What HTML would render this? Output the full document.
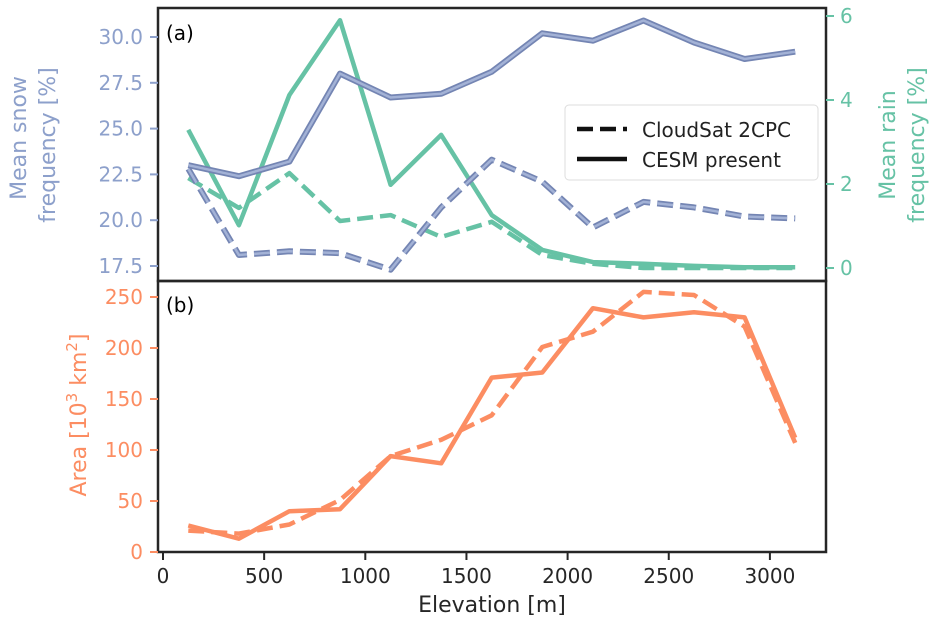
<!DOCTYPE html>
<html><head><meta charset="utf-8"><style>
body{margin:0;background:#fff}
svg{font-family:"DejaVu Sans","Liberation Sans",sans-serif}
</style></head><body>
<svg id="c" width="939" height="624" xmlns="http://www.w3.org/2000/svg"></svg>
<script>
const elevations=[125,375,625,875,1125,1375,1625,1875,2125,2375,2625,2875,3125];
const snowCesm=[23.0,22.4,23.2,28.0,26.7,26.9,28.1,30.2,29.8,30.9,29.7,28.8,29.2];
const snowCloudsat=[22.8,18.1,18.3,18.2,17.3,20.7,23.3,22.1,19.6,21.0,20.7,20.2,20.1];
const rainCesm=[3.29,1.02,4.12,5.9,1.98,3.17,1.26,0.43,0.14,0.1,0.05,0.02,0.02];
const rainCloudsat=[2.14,1.43,2.26,1.12,1.26,0.74,1.1,0.31,0.1,0.0,0.0,0.0,0.0];
const areaCesm=[26,13,40,42,94,87,171,176,239,230,235,230,112];
const areaCloudsat=[21,18,27,51,94,110,134,201,216,255,252,221,107];
const xTicks=[0,500,1000,1500,2000,2500,3000];
const snowTicks=[17.5,20.0,22.5,25.0,27.5,30.0];
const rainTicks=[0,2,4,6];
const areaTicks=[0,50,100,150,200,250];

const svg=document.getElementById('c');
const NS='http://www.w3.org/2000/svg';
function mk(tag,attrs,parent){const e=document.createElementNS(NS,tag);for(const k in attrs)e.setAttribute(k,attrs[k]);(parent||svg).appendChild(e);return e;}
const X=v=>163+v*0.2023;
const Ys=v=>266-(v-17.5)*18.32;
const Yr=v=>268-v*42;
const Ya=v=>552-v*1.02;
const SNOW='#8da0cb',RAIN='#66c2a5',AREA='#fc8d62';

function line(xs,ys,fx,fy,color,dash,name,w){
  const d=xs.map((x,i)=>(i?'L':'M')+fx(x).toFixed(1)+' '+fy(ys[i]).toFixed(1)).join(' ');
  const p=mk('path',{d:d,fill:'none',stroke:color,'stroke-width':w||4.5,'stroke-linejoin':'round','stroke-dasharray':dash?'16,7':'none'});
  
  
  return p;
}
function text(x,y,s,attrs,name){const t=mk('text',Object.assign({x:x,y:y,'font-size':20},attrs));t.textContent=s;return t;}

line(elevations,rainCesm,X,Yr,RAIN,false,'rain-cesm-line');
line(elevations,rainCloudsat,X,Yr,RAIN,true,'rain-cloudsat-line');
line(elevations,snowCesm,X,Ys,'#7485b3',false,'snow-cesm-line',6);
line(elevations,snowCesm,X,Ys,'#a3b2d6',false,'snow-cesm-line-inner',2.5);
line(elevations,snowCloudsat,X,Ys,'#7485b3',true,'snow-cloudsat-line',6);
line(elevations,snowCloudsat,X,Ys,'#a3b2d6',true,'snow-cloudsat-line-inner',2.5);
line(elevations,areaCesm,X,Ya,AREA,false,'area-cesm-line');
line(elevations,areaCloudsat,X,Ya,AREA,true,'area-cloudsat-line');

const f1=mk('rect',{x:158,y:8,width:668,height:273,fill:'none',stroke:'#262626','stroke-width':2.5});

const f2=mk('rect',{x:158,y:281,width:668,height:271,fill:'none',stroke:'#262626','stroke-width':2.5});


snowTicks.forEach(v=>{mk('line',{x1:150,x2:158,y1:Ys(v),y2:Ys(v),stroke:SNOW,'stroke-width':2});text(143,Ys(v)+7,v.toFixed(1),{'text-anchor':'end',fill:SNOW},'snow-tick-label');});
rainTicks.forEach(v=>{mk('line',{x1:826,x2:834,y1:Yr(v),y2:Yr(v),stroke:RAIN,'stroke-width':2});text(840,Yr(v)+7,String(v),{fill:RAIN},'rain-tick-label');});
areaTicks.forEach(v=>{mk('line',{x1:150,x2:158,y1:Ya(v),y2:Ya(v),stroke:AREA,'stroke-width':2});text(143,Ya(v)+7,String(v),{'text-anchor':'end',fill:AREA},'area-tick-label');});
xTicks.forEach(v=>{mk('line',{x1:X(v),x2:X(v),y1:552,y2:560,stroke:'#262626','stroke-width':2});text(X(v),583,String(v),{'text-anchor':'middle',fill:'#262626'},'x-tick-label');});

text(0,0,'Mean snow',{'font-size':22,fill:SNOW,'text-anchor':'middle',transform:'translate(26,138) rotate(-90)'},'snow-axis-title');
text(0,0,'frequency [%]',{'font-size':22,fill:SNOW,'text-anchor':'middle',transform:'translate(55,145) rotate(-90)'},'snow-axis-title-2');
text(0,0,'Mean rain',{'font-size':22,fill:RAIN,'text-anchor':'middle',transform:'translate(895,145) rotate(-90)'},'rain-axis-title');
text(0,0,'frequency [%]',{'font-size':22,fill:RAIN,'text-anchor':'middle',transform:'translate(924,145) rotate(-90)'},'rain-axis-title-2');
const at=text(0,0,'Area [10',{'font-size':22,fill:AREA,'text-anchor':'middle',transform:'translate(86,415) rotate(-90)'},'area-axis-title');
const s1=mk('tspan',{dy:-9,'font-size':15},at);s1.textContent='3';
const s2=mk('tspan',{dy:9},at);s2.textContent=' km';
const s3=mk('tspan',{dy:-9,'font-size':15},at);s3.textContent='2';
const s4=mk('tspan',{dy:9},at);s4.textContent=']';
text(492,612,'Elevation [m]',{'font-size':22,fill:'#262626','text-anchor':'middle'},'x-axis-title');
text(166,40,'(a)',{'font-size':20,fill:'#000'},'panel-a-label');
text(166,312,'(b)',{'font-size':20,fill:'#000'},'panel-b-label');

const lg=mk('rect',{x:565,y:105,width:253,height:75,rx:4,fill:'#fff',stroke:'#ddd','stroke-width':1});

mk('line',{x1:577,x2:627,y1:129,y2:129,stroke:'#111','stroke-width':4.5,'stroke-dasharray':'16,7'});
text(642,137,'CloudSat 2CPC',{'font-size':20,fill:'#222'},'legend-entry-cloudsat');
mk('line',{x1:577,x2:627,y1:159,y2:159,stroke:'#111','stroke-width':4.5});
text(642,167,'CESM present',{'font-size':20,fill:'#222'},'legend-entry-cesm');
</script>
</body></html>
